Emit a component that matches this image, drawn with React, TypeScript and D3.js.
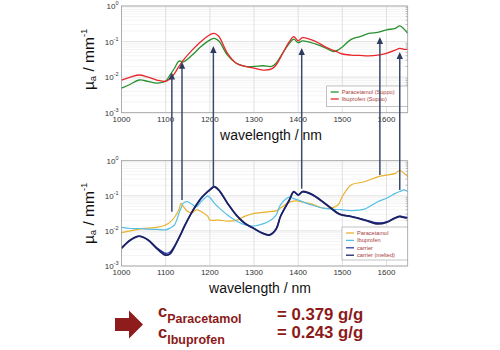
import { useEffect, useRef } from "react";
import * as d3 from "d3";

// top panel: suppositories
const wlTop = [1000, 1020, 1040, 1060, 1080, 1100, 1110, 1120, 1130, 1140, 1160, 1180, 1200, 1210, 1220, 1240, 1260, 1280, 1300, 1320, 1340, 1350, 1360, 1380, 1390, 1400, 1410, 1440, 1460, 1480, 1490, 1500, 1520, 1540, 1560, 1580, 1600, 1620, 1630, 1640, 1648];
const paracetamolSuppo = [0.0049, 0.0063, 0.0083, 0.0076, 0.0068, 0.0078, 0.0115, 0.0178, 0.0282, 0.0269, 0.0417, 0.0724, 0.11, 0.123, 0.105, 0.0417, 0.0245, 0.02, 0.02, 0.0209, 0.02, 0.0245, 0.038, 0.0891, 0.117, 0.0933, 0.105, 0.0851, 0.0676, 0.0525, 0.0575, 0.0708, 0.115, 0.138, 0.17, 0.182, 0.214, 0.234, 0.275, 0.224, 0.17];
const ibuprofenSuppo = [0.0083, 0.01, 0.0115, 0.01, 0.0083, 0.0076, 0.0091, 0.0126, 0.02, 0.0302, 0.0575, 0.1, 0.155, 0.17, 0.141, 0.0468, 0.0245, 0.02, 0.0178, 0.0158, 0.017, 0.0219, 0.0355, 0.1, 0.138, 0.105, 0.129, 0.1, 0.0724, 0.0562, 0.0501, 0.0447, 0.0417, 0.0407, 0.0398, 0.0417, 0.0468, 0.0575, 0.0646, 0.0603, 0.0603];

// bottom panel: pure components
const wlBottom = [1000, 1020, 1040, 1060, 1080, 1100, 1110, 1120, 1130, 1135, 1140, 1150, 1160, 1170, 1180, 1195, 1200, 1210, 1220, 1240, 1260, 1280, 1300, 1320, 1335, 1350, 1360, 1380, 1390, 1400, 1410, 1430, 1460, 1490, 1500, 1520, 1550, 1580, 1600, 1620, 1630, 1640, 1648];
const paracetamol = [0.0089, 0.01, 0.0112, 0.012, 0.0126, 0.0148, 0.0178, 0.0245, 0.0398, 0.0617, 0.05, 0.0355, 0.0331, 0.0398, 0.0355, 0.0263, 0.0204, 0.02, 0.0204, 0.0191, 0.02, 0.0263, 0.0316, 0.0339, 0.0355, 0.0372, 0.0447, 0.0661, 0.0708, 0.0708, 0.0661, 0.0589, 0.0437, 0.055, 0.0955, 0.204, 0.251, 0.347, 0.389, 0.437, 0.525, 0.437, 0.347];
const ibuprofen = [0.0126, 0.0117, 0.0117, 0.0112, 0.011, 0.0107, 0.012, 0.0148, 0.0316, 0.0447, 0.0617, 0.0676, 0.0562, 0.049, 0.0676, 0.0977, 0.0891, 0.0617, 0.0468, 0.0282, 0.0191, 0.0148, 0.0138, 0.0158, 0.0191, 0.0282, 0.055, 0.0912, 0.0832, 0.0759, 0.0676, 0.055, 0.0437, 0.0407, 0.0398, 0.038, 0.0417, 0.0676, 0.0851, 0.117, 0.132, 0.148, 0.132];
const carrier = [0.00316, 0.0055, 0.00708, 0.0055, 0.00316, 0.00204, 0.00224, 0.00355, 0.00631, 0.00851, 0.0117, 0.0209, 0.0355, 0.0562, 0.0851, 0.132, 0.148, 0.182, 0.148, 0.0617, 0.0282, 0.0162, 0.0117, 0.00851, 0.00759, 0.0112, 0.0257, 0.0759, 0.132, 0.105, 0.132, 0.112, 0.0617, 0.0316, 0.0282, 0.0257, 0.0204, 0.0158, 0.0174, 0.0234, 0.0257, 0.024, 0.0234];
const carrierMelted = [0.0033, 0.0054, 0.007, 0.0056, 0.0033, 0.0023, 0.0025, 0.0037, 0.0062, 0.0083, 0.0115, 0.0205, 0.035, 0.055, 0.084, 0.13, 0.146, 0.178, 0.146, 0.061, 0.028, 0.016, 0.0116, 0.0086, 0.0078, 0.0114, 0.026, 0.074, 0.128, 0.107, 0.13, 0.11, 0.061, 0.032, 0.0285, 0.026, 0.021, 0.017, 0.018, 0.024, 0.026, 0.025, 0.024];

// assignment arrows: bottom value -> top value
const arrowWl = [1114, 1137, 1208, 1408, 1585, 1630];
const arrowFrom = [0.035, 0.076, 0.18, 0.16, 0.39, 0.147];
const arrowTo = [0.0134, 0.027, 0.075, 0.066, 0.135, 0.051];

const xTicks = [1000, 1100, 1200, 1300, 1400, 1500, 1600];
const yExponents = [0, -1, -2, -3];

const topLegend = ["Paracetamol (Suppo)", "Ibuprofen (Suppo)"];
const bottomLegend = ["Paracetamol", "Ibuprofen", "carrier", "carrier (melted)"];
const results = [
  { sub: "Paracetamol", value: "= 0.379 g/g" },
  { sub: "Ibuprofen", value: "= 0.243 g/g" },
];

const FONT = "Arial, 'Liberation Sans', sans-serif";
const MAROON = "#8c1a1a";

function drawPanel(svg, box, series, legend, legendBox, xLabelX) {
  const x = d3.scaleLinear().domain([1000, 1648]).range([box.left, box.right]);
  const y = d3.scaleLog().domain([1e-3, 1]).range([box.bottom, box.top]);
  const g = svg.append("g");

  g.append("rect")
    .attr("x", box.left).attr("y", box.top)
    .attr("width", box.right - box.left).attr("height", box.bottom - box.top)
    .attr("fill", "white");

  // minor grid
  const minor = [];
  for (let e = -3; e < 0; e++) for (let m = 2; m < 10; m++) minor.push(m * Math.pow(10, e));
  g.selectAll(".minor").data(minor).enter().append("line")
    .attr("x1", box.left).attr("x2", box.right)
    .attr("y1", (d) => y(d)).attr("y2", (d) => y(d))
    .attr("stroke", "#ececec").attr("stroke-width", 0.6);
  g.selectAll(".minorTick").data(minor).enter().append("line")
    .attr("x1", box.right - 2).attr("x2", box.right)
    .attr("y1", (d) => y(d)).attr("y2", (d) => y(d))
    .attr("stroke", "#888").attr("stroke-width", 0.6);

  // major grid
  g.selectAll(".hgrid").data(yExponents).enter().append("line")
    .attr("x1", box.left).attr("x2", box.right)
    .attr("y1", (d) => y(Math.pow(10, d))).attr("y2", (d) => y(Math.pow(10, d)))
    .attr("stroke", "#d6d6d6").attr("stroke-width", 0.7);
  g.selectAll(".vgrid").data(xTicks).enter().append("line")
    .attr("x1", (d) => x(d)).attr("x2", (d) => x(d))
    .attr("y1", box.top).attr("y2", box.bottom)
    .attr("stroke", "#d6d6d6").attr("stroke-width", 0.7);

  // spectra
  series.forEach((s) => {
    const line = d3.line()
      .x((d, i) => x(s.wl[i]))
      .y((d) => y(d))
      .curve(d3.curveCatmullRom.alpha(0.5));
    g.append("path")
      .attr("d", line(s.values))
      .attr("fill", "none")
      .attr("stroke", s.color)
      .attr("stroke-width", s.width)
      .attr("stroke-linejoin", "round");
  });

  g.append("rect")
    .attr("x", box.left).attr("y", box.top)
    .attr("width", box.right - box.left).attr("height", box.bottom - box.top)
    .attr("fill", "none").attr("stroke", "#a0a0a0").attr("stroke-width", 0.8);

  // x tick labels
  g.selectAll(".xt").data(xTicks).enter().append("text")
    .attr("x", (d) => x(d)).attr("y", box.bottom + 9)
    .attr("text-anchor", "middle")
    .attr("font-family", FONT).attr("font-size", 8).attr("fill", "#333")
    .text((d) => d);

  // y tick labels 10^n
  const yt = g.selectAll(".yt").data(yExponents).enter().append("text")
    .attr("x", box.left - 3).attr("y", (d) => y(Math.pow(10, d)) + 3)
    .attr("text-anchor", "end")
    .attr("font-family", FONT).attr("fill", "#333");
  yt.append("tspan").attr("font-size", 8).text("10");
  yt.append("tspan").attr("font-size", 5.5).attr("dy", -4).text((d) => String(d));

  // y label
  const yl = g.append("text")
    .attr("transform", `translate(94, ${(box.top + box.bottom) / 2}) rotate(-90)`)
    .attr("text-anchor", "middle")
    .attr("font-family", FONT).attr("fill", "#111");
  yl.append("tspan").attr("font-size", 15.5).text("µ");
  yl.append("tspan").attr("font-size", 9.5).attr("dy", 2).text("a");
  yl.append("tspan").attr("font-size", 15.5).attr("dy", -2).text(" / mm");
  yl.append("tspan").attr("font-size", 9.5).attr("dy", -7).text("-1");

  // x label
  g.append("text")
    .attr("x", xLabelX).attr("y", box.bottom + 27)
    .attr("text-anchor", "middle")
    .attr("font-family", FONT).attr("font-size", 14).attr("fill", "#111")
    .text("wavelength / nm");

  // legend
  const lg = g.append("g");
  lg.append("rect")
    .attr("x", legendBox.x).attr("y", legendBox.y)
    .attr("width", legendBox.w).attr("height", legendBox.h)
    .attr("fill", "white").attr("stroke", "#9a9a9a").attr("stroke-width", 0.6);
  legend.forEach((label, i) => {
    const ly = legendBox.y + 6 + i * legendBox.step;
    lg.append("line")
      .attr("x1", legendBox.x + 4).attr("x2", legendBox.x + 12)
      .attr("y1", ly).attr("y2", ly)
      .attr("stroke", series[i].color).attr("stroke-width", 1.3);
    lg.append("text")
      .attr("x", legendBox.x + 15).attr("y", ly + 2)
      .attr("font-family", FONT).attr("font-size", 5.6).attr("fill", "#a83a3a")
      .text(label);
  });

  return { x, y };
}

export default function App() {
  const svgRef = useRef(null);

  useEffect(() => {
    const svg = d3.select(svgRef.current);
    svg.selectAll("*").remove();

    const topBox = { left: 121.5, right: 407.7, top: 6, bottom: 112.7 };
    const botBox = { left: 121.5, right: 407.7, top: 160.7, bottom: 266 };

    const top = drawPanel(svg, topBox, [
      { wl: wlTop, values: paracetamolSuppo, color: "#26912e", width: 1.3 },
      { wl: wlTop, values: ibuprofenSuppo, color: "#e8262b", width: 1.3 },
    ], topLegend, { x: 326.7, y: 86, w: 81, h: 20.7, step: 7 }, 271);

    const bot = drawPanel(svg, botBox, [
      { wl: wlBottom, values: paracetamol, color: "#e8b22e", width: 1.2 },
      { wl: wlBottom, values: ibuprofen, color: "#55bfe6", width: 1.2 },
      { wl: wlBottom, values: carrierMelted, color: "#2a3bb0", width: 1.4 },
      { wl: wlBottom, values: carrier, color: "#1b2163", width: 1.8 },
    ], bottomLegend, { x: 342, y: 227, w: 65.7, h: 33, step: 7.4 }, 260);

    // arrows from the pure spectra up to the suppository spectra
    const ag = svg.append("g");
    arrowWl.forEach((wl, i) => {
      const ax = top.x(wl);
      const y0 = bot.y(arrowFrom[i]);
      const y1 = top.y(arrowTo[i]);
      ag.append("line")
        .attr("x1", ax).attr("x2", ax)
        .attr("y1", y0).attr("y2", y1 + 6)
        .attr("stroke", "#3a4a6c").attr("stroke-width", 1.5);
      ag.append("path")
        .attr("d", `M${ax},${y1} L${ax - 3.2},${y1 + 7} L${ax + 3.2},${y1 + 7} Z`)
        .attr("fill", "#2c3c60");
    });

    // result block
    const rg = svg.append("g");
    rg.append("path")
      .attr("d", "M115,318 L129,318 L129,310.5 L143,324.5 L129,338.5 L129,331 L115,331 Z")
      .attr("fill", "#8e1c1c");
    results.forEach((r, i) => {
      const base = 317 + i * 21;
      const t = rg.append("text")
        .attr("x", 158).attr("y", base)
        .attr("font-family", FONT).attr("font-weight", "bold").attr("fill", MAROON);
      t.append("tspan").attr("font-size", 16.5).text("c");
      t.append("tspan").attr("font-size", 12.5).attr("dy", 6).text(r.sub);
      rg.append("text")
        .attr("x", 277).attr("y", 320 + i * 18)
        .attr("font-family", FONT).attr("font-weight", "bold")
        .attr("font-size", 16.8).attr("fill", MAROON)
        .text(r.value);
    });
  }, []);

  return (
    <svg
      ref={svgRef}
      width={500}
      height={350}
      style={{ position: "absolute", left: 0, top: 0, background: "white" }}
    />
  );
}
